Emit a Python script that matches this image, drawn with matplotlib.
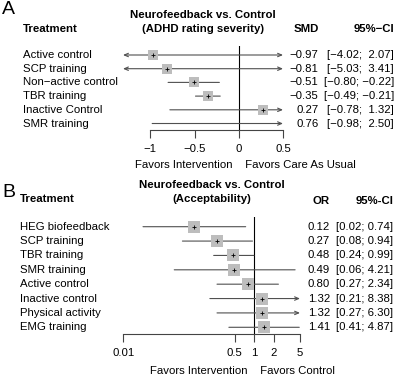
import matplotlib
matplotlib.use("Agg")
import matplotlib.pyplot as plt
import matplotlib.transforms as mtransforms
from matplotlib.ticker import FixedLocator, FixedFormatter, NullLocator

plt.rcParams["font.family"] = ["Liberation Sans", "DejaVu Sans"]
plt.rcParams["font.size"] = 8.2

# panel A: ADHD rating severity (SMD)
treat_a = ["Active control", "SCP training", "Non\u2212active control",
           "TBR training", "Inactive Control", "SMR training"]
smd_a = [-0.97, -0.81, -0.51, -0.35, 0.27, 0.76]
lo_a = [-4.02, -5.03, -0.80, -0.49, -0.78, -0.98]
hi_a = [2.07, 3.41, -0.22, -0.21, 1.32, 2.50]
ticks_a = [-1, -0.5, 0, 0.5]
ticklabels_a = ["\u22121", "\u22120.5", "0", "0.5"]

# panel B: acceptability (OR)
treat_b = ["HEG biofeedback", "SCP training", "TBR training", "SMR training",
           "Active control", "Inactive control", "Physical activity", "EMG training"]
or_b = [0.12, 0.27, 0.48, 0.49, 0.80, 1.32, 1.32, 1.41]
lo_b = [0.02, 0.08, 0.24, 0.06, 0.27, 0.21, 0.27, 0.41]
hi_b = [0.74, 0.94, 0.99, 4.21, 2.34, 8.38, 6.30, 4.87]
ticks_b = [0.01, 0.5, 1, 2, 5]
ticklabels_b = ["0.01", "0.5", "1", "2", "5"]

W, H = 400, 377
fig = plt.figure(figsize=(W / 100, H / 100), dpi=100)

SQ = "#bdbdbd"
LN = "#505050"


def fx(px):
    return px / W


def fy(py):
    return 1 - py / H


def forest(ax, est, lo, hi, xlim, ref, sq_size):
    ax.set_xlim(*xlim)
    for i, (e, l, h) in enumerate(zip(est, lo, hi)):
        left = max(l, xlim[0])
        right = min(h, xlim[1])
        style = "-"
        if l < xlim[0] and h > xlim[1]:
            style = "<->"
        elif h > xlim[1]:
            style = "->"
        elif l < xlim[0]:
            style = "<-"
        if style != "-":
            style += ",head_length=0.35,head_width=0.15"
        ax.annotate("", xy=(right, i), xytext=(left, i),
                    arrowprops=dict(arrowstyle=style, color=LN, lw=0.8,
                                    shrinkA=0, shrinkB=0))
    idx = list(range(len(est)))
    ax.scatter(est, idx, marker="s", s=sq_size, color=SQ, zorder=3, linewidths=0)
    ax.scatter(est, idx, marker="+", s=6, color="black", zorder=4, linewidths=0.6)
    ax.axvline(ref, color="black", lw=0.8, zorder=1)
    for s in ["top", "left", "right"]:
        ax.spines[s].set_visible(False)
    ax.spines["bottom"].set_linewidth(0.8)
    ax.spines["bottom"].set_color("#444444")
    ax.set_yticks([])
    ax.tick_params(axis="x", direction="out", length=5.5, width=0.8,
                   color="#444444", pad=4.5, labelsize=8.2)
    ax.set_facecolor("none")


# ---- panel A ----
axa = fig.add_axes([fx(123), fy(130), fx(283) - fx(123), fy(46) - fy(130)])
forest(axa, smd_a, lo_a, hi_a, (-1.31, 0.5), 0, 52)
axa.set_ylim(5.474, -0.657)
axa.spines["bottom"].set_bounds(ticks_a[0], ticks_a[-1])
axa.xaxis.set_major_locator(FixedLocator(ticks_a))
axa.xaxis.set_major_formatter(FixedFormatter(ticklabels_a))

tra = mtransforms.blended_transform_factory(fig.transFigure, axa.transData)
for i, t in enumerate(treat_a):
    fig.text(fx(23), i, t, transform=tra, ha="left", va="center")
    fig.text(fx(318.5), i, f"{smd_a[i]:.2f}".replace("-", "\u2212"),
             transform=tra, ha="right", va="center")
    ci = f"[{lo_a[i]:5.2f}; {hi_a[i]:5.2f}]".replace("-", "\u2212")
    fig.text(fx(394), i, ci, transform=tra, ha="right", va="center")

fig.text(fx(2), fy(10), "A", fontsize=14, ha="left", va="center")
fig.text(fx(23), fy(28.5), "Treatment", fontweight="bold", ha="left", va="center")
fig.text(fx(203), fy(15.5), "Neurofeedback vs. Control", fontweight="bold",
         ha="center", va="center")
fig.text(fx(203), fy(28.5), "(ADHD rating severity)", fontweight="bold",
         ha="center", va="center")
fig.text(fx(318.5), fy(28.5), "SMD", fontweight="bold", ha="right", va="center")
fig.text(fx(394), fy(28.5), "95%\u2212CI", fontweight="bold", ha="right", va="center")

xla = mtransforms.blended_transform_factory(axa.transData, fig.transFigure)
fig.text(0, fy(165), "Favors Intervention  ", transform=xla, ha="right", va="center")
fig.text(0, fy(165), "  Favors Care As Usual", transform=xla, ha="left", va="center")

# ---- panel B ----
axb = fig.add_axes([fx(123.3), fy(334), fx(300) - fx(123.3), fy(217) - fy(334)])
axb.set_xscale("log")
forest(axb, or_b, lo_b, hi_b, (0.01, 5), 1, 63)
axb.set_ylim(7.467, -0.675)
axb.spines["bottom"].set_bounds(ticks_b[0], ticks_b[-1])
axb.xaxis.set_major_locator(FixedLocator(ticks_b))
axb.xaxis.set_major_formatter(FixedFormatter(ticklabels_b))
axb.xaxis.set_minor_locator(NullLocator())

trb = mtransforms.blended_transform_factory(fig.transFigure, axb.transData)
for i, t in enumerate(treat_b):
    fig.text(fx(19.5), i, t, transform=trb, ha="left", va="center")
    fig.text(fx(330), i, f"{or_b[i]:.2f}", transform=trb, ha="right", va="center")
    fig.text(fx(393.5), i, f"[{lo_b[i]:.2f}; {hi_b[i]:.2f}]",
             transform=trb, ha="right", va="center")

fig.text(fx(2), fy(192.5), "B", fontsize=14, ha="left", va="center")
fig.text(fx(20), fy(199), "Treatment", fontweight="bold", ha="left", va="center")
fig.text(fx(211.5), fy(185), "Neurofeedback vs. Control", fontweight="bold",
         ha="center", va="center")
fig.text(fx(211.5), fy(199.5), "(Acceptability)", fontweight="bold",
         ha="center", va="center")
fig.text(fx(330), fy(200.5), "OR", fontweight="bold", ha="right", va="center")
fig.text(fx(394), fy(200.5), "95%-CI", fontweight="bold", ha="right", va="center")

xlb = mtransforms.blended_transform_factory(axb.transData, fig.transFigure)
fig.text(1, fy(370.7), "Favors Intervention  ", transform=xlb, ha="right", va="center")
fig.text(1, fy(370.7), "  Favors Control", transform=xlb, ha="left", va="center")

fig.savefig("out.png", dpi=100, facecolor="white")
